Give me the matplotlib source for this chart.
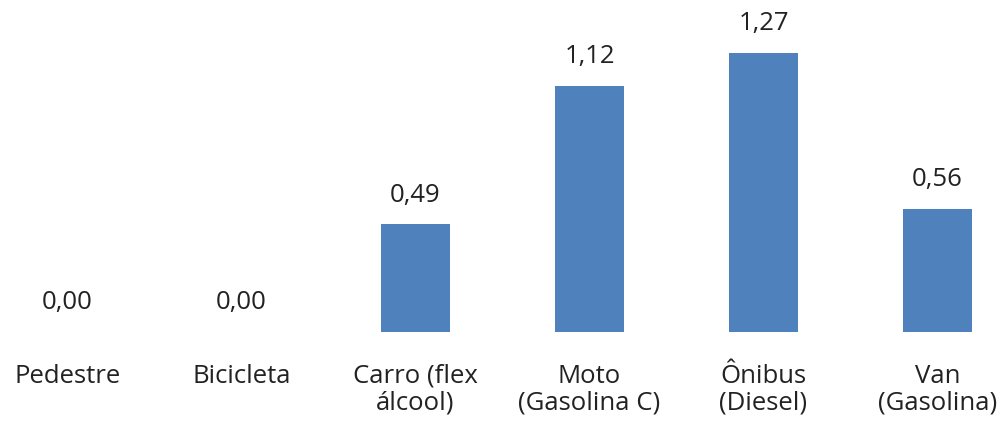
import matplotlib
matplotlib.use('Agg')
import matplotlib.pyplot as plt

categorias = ['Pedestre', 'Bicicleta', 'Carro (flex\nálcool)', 'Moto\n(Gasolina C)',
              'Ônibus\n(Diesel)', 'Van\n(Gasolina)']
valores = [0.00, 0.00, 0.49, 1.12, 1.27, 0.56]

plt.rcParams['font.family'] = ['Open Sans', 'DejaVu Sans']

fig = plt.figure(figsize=(10.03, 4.30), dpi=100)
ax = fig.add_axes([0, 98 / 430, 1, 332 / 430])

x = list(range(len(categorias)))
ax.bar(x, valores, width=0.4, color='#4F81BD')

for xi, v in zip(x, valores):
    ax.annotate(f'{v:.2f}'.replace('.', ','), (xi, v), xytext=(0, 21),
                textcoords='offset points', ha='center', va='center',
                fontsize=18.5, color='#222222')

ax.set_xlim(-0.388, 5.376)
ax.set_ylim(0, 1.509)
ax.set_xticks(x)
ax.set_xticklabels(categorias, fontsize=18.5, color='#222222', linespacing=1.1)
ax.tick_params(axis='x', length=0, pad=23)
ax.set_yticks([])
for s in ax.spines.values():
    s.set_visible(False)

fig.savefig('out.png', dpi=100)
